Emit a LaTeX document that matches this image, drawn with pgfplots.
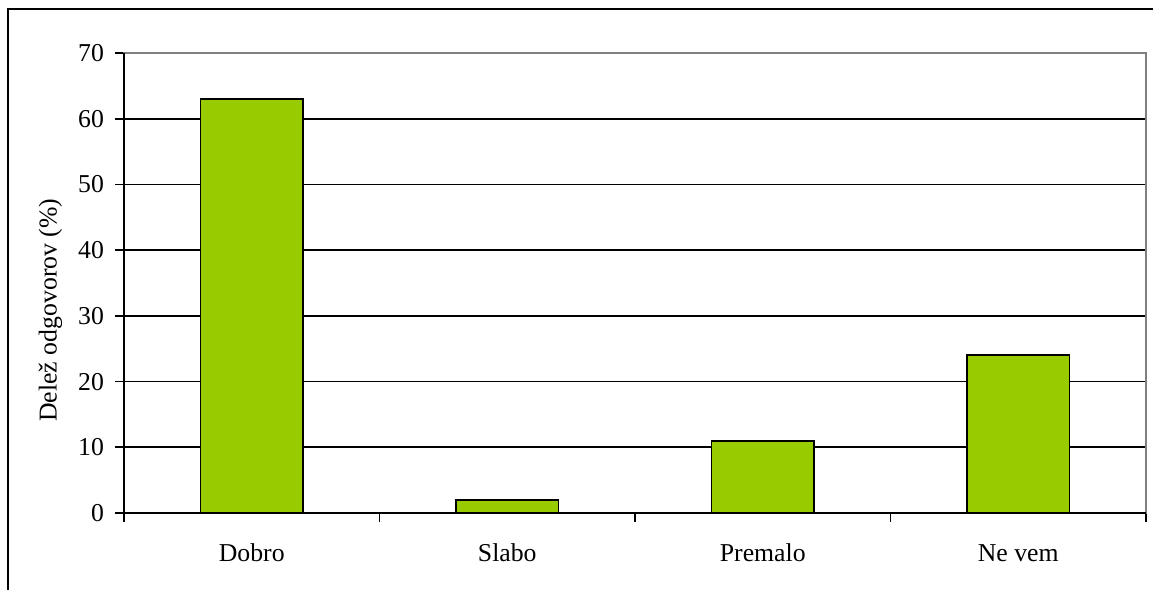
\documentclass[border=0pt]{standalone}
\usepackage{pgfplots}
\pgfplotsset{compat=1.18}
\usepackage{fontspec}
\setmainfont{Liberation Serif}

\definecolor{barfill}{HTML}{99CC00}
\definecolor{boxgray}{HTML}{808080}

% answer shares (percent)
\pgfplotstableread{
x  share
0  63
1  2
2  11
3  24
}\answers

\begin{document}
\begin{tikzpicture}[x=0.75pt,y=0.75pt]
% page area and outer chart frame
\path[use as bounding box] (0,0) rectangle (1153,589);
\draw[line width=1.6pt] (8,-20) -- (8,580) -- (1180,580);
\begin{axis}[
  at={(93pt,57pt)}, anchor=south west,
  scale only axis,
  width=766.5pt, height=345pt,
  xmin=-0.5, xmax=3.5,
  ymin=0, ymax=70,
  ytick={0,10,...,70},
  xtick={-0.5,0.5,1.5,2.5,3.5},
  xticklabels={Dobro,Slabo,Premalo,Ne vem},
  x tick label as interval,
  xtick pos=bottom, ytick pos=left,
  tick align=outside,
  major tick length=6.5pt,
  tick style={black, line width=1.2pt},
  ymajorgrids,
  grid style={black, line width=1.2pt},
  axis line style={boxgray, line width=1.4pt},
  font=\fontsize{19.3}{23}\selectfont,
  /pgf/number format/assume math mode=true,
  yticklabel style={xshift=-5pt},
  xticklabel style={yshift=-19pt, text height=0.7em, text depth=0.22em},
  every axis y label/.style={at={(axis description cs:-0.072,0.441)}, anchor=center, rotate=90},
  ylabel={Delež odgovorov (\%)},
  clip=false,
]
\addplot[ybar, bar width=0.4, fill=barfill, draw=black, line width=1.2pt] table[x=x, y=share] {\answers};
% left and bottom axis lines in black
\draw[black, line width=1.4pt] (rel axis cs:0,1) -- (rel axis cs:0,0) -- (rel axis cs:1,0);
\end{axis}
\end{tikzpicture}
\end{document}
